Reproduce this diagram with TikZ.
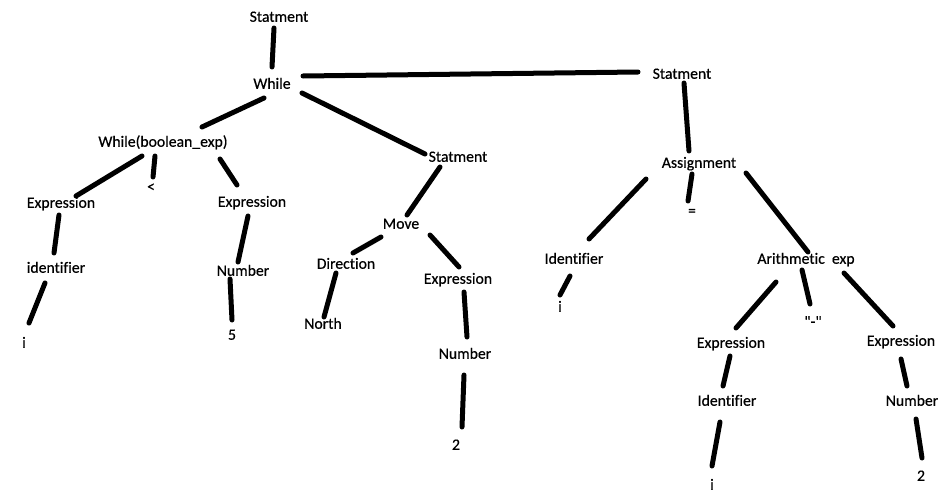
\documentclass[tikz,border=0pt]{standalone}
\usepackage{fontspec}
\setmainfont{Carlito}[Ligatures={TeXOff,NoCommon}, FakeBold=0.5]
\usetikzlibrary{calc}
\tikzset{
  lbl/.style={inner sep=0pt, text height=9.5pt, text depth=0pt, font=\fontsize{15.7}{18}\selectfont, text=black},
  edge/.style={line width=5pt, line cap=round, black}
}
\newcommand{\conn}[4]{\draw[edge] ($(#1)+(#2)$) -- ($(#3)+(#4)$);}
\begin{document}
\begin{tikzpicture}[x=1pt,y=-1pt]
\useasboundingbox (0,0) rectangle (950,498);
\node[lbl] (S1) at (279,17) {Statment};
\node[lbl] (W) at (272,84) {While};
\node[lbl] (WB) at (163,142) {While(boolean\_exp)};
\node[lbl] (LT) at (151,187) {<};
\node[lbl] (E1) at (61,203) {Expression};
\node[lbl] (E2) at (252,202) {Expression};
\node[lbl] (S2) at (458,157) {Statment};
\node[lbl] (MV) at (401,224) {Move};
\node[lbl] (ID1) at (56,268) {identifier};
\node[lbl] (I1) at (24,343) {i};
\node[lbl] (N1) at (243,271) {Number};
\node[lbl] (FIVE) at (232,335) {5};
\node[lbl] (DIR) at (346,264) {Direction};
\node[lbl] (NOR) at (323,324) {North};
\node[lbl] (E3) at (458,279) {Expression};
\node[lbl] (N2) at (465,354) {Number};
\node[lbl] (TWOa) at (456,445) {2};
\node[lbl] (S3) at (682,74) {Statment};
\node[lbl] (AS) at (699,163) {Assignment};
\node[lbl] (EQ) at (692,211) {=};
\node[lbl] (ID2) at (574,259) {Identifier};
\node[lbl] (I2) at (560,307) {i};
\node[lbl] (AR) at (806,259) {Arithmetic~~exp};
\node[lbl] (MN) at (813,322) {"-"};
\node[lbl] (E4) at (731,343) {Expression};
\node[lbl] (E5) at (901,341) {Expression};
\node[lbl] (ID3) at (727,401) {Identifier};
\node[lbl] (N3) at (912,401) {Number};
\node[lbl] (I3) at (712,485) {i};
\node[lbl] (TWOb) at (921,476) {2};

\conn{S1}{-5,11}{W}{0,-17}
\conn{W}{31,-8}{S3}{-44,-2}
\conn{W}{-8,14}{WB}{39,-15}
\conn{W}{30,9}{S2}{-33,-3}
\conn{WB}{-21,14}{E1}{15,-7}
\conn{WB}{-8,14}{LT}{2,-10}
\conn{WB}{57,17}{E2}{-15,-17}
\conn{E1}{-2,12}{ID1}{-2,-15}
\conn{E2}{-4,14}{N1}{-5,-9}
\conn{ID1}{-11,15}{I1}{5,-20}
\conn{N1}{-13,8}{FIVE}{0,-15}
\conn{S2}{-18,10}{MV}{6,-9}
\conn{MV}{-20,13}{DIR}{7,-11}
\conn{MV}{29,11}{E3}{1,-12}
\conn{DIR}{-10,9}{NOR}{1,-7}
\conn{E3}{6,13}{N2}{2,-17}
\conn{N2}{-1,21}{TWOa}{6,-18}
\conn{S3}{2,9}{AS}{-10,-12}
\conn{AS}{-53,16}{ID2}{15,-20}
\conn{AS}{-7,11}{EQ}{-4,-10}
\conn{AS}{47,10}{AR}{2,-7}
\conn{ID2}{-4,17}{I2}{0,-12}
\conn{AR}{-30,23}{E4}{5,-15}
\conn{AR}{-4,11}{MN}{-3,-18}
\conn{AR}{38,14}{E5}{-8,-15}
\conn{E4}{-1,13}{ID3}{-4,-15}
\conn{E5}{0,18}{N3}{-5,-15}
\conn{ID3}{-7,21}{I3}{0,-19}
\conn{N3}{4,18}{TWOb}{1,-18}
\end{tikzpicture}
\end{document}
